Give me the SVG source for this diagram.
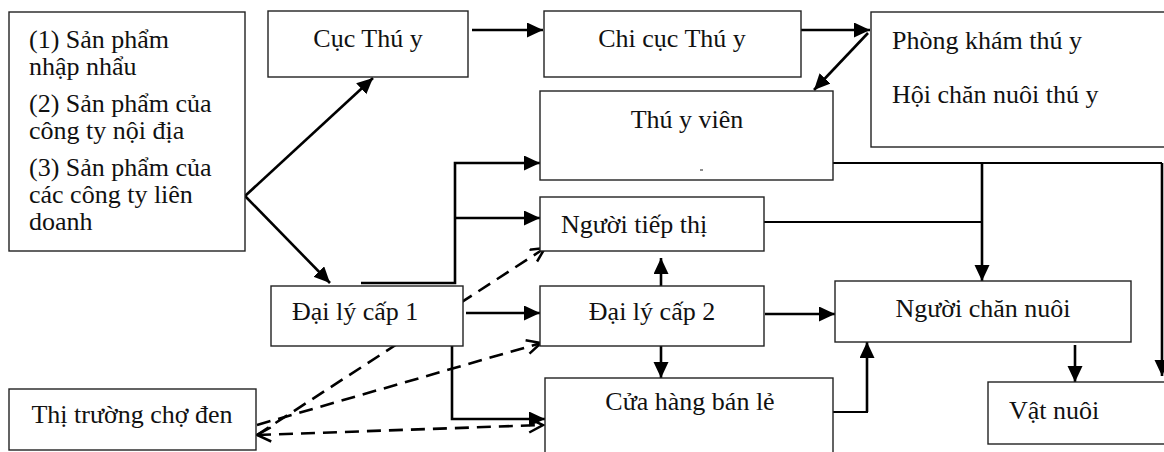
<svg xmlns="http://www.w3.org/2000/svg" width="1164" height="452" viewBox="0 0 1164 452">
<style>
  .box { fill: #fff; stroke: #222; stroke-width: 1.4; }
  .t { font-family: "Liberation Serif", "Times New Roman", serif; font-size: 26px; fill: #111; }
  .c { text-anchor: middle; }
  .ln { fill: none; stroke: #000; stroke-width: 2.6; }
  .thin { fill: none; stroke: #000; stroke-width: 1.8; }
  .dash { fill: none; stroke: #000; stroke-width: 2.6; stroke-dasharray: 14 8; }
</style>
<defs>
  <marker id="ah" markerUnits="userSpaceOnUse" markerWidth="17" markerHeight="16" refX="16" refY="7.5" orient="auto">
    <path d="M0,0 L16,7.5 L0,15 z" fill="#000"/>
  </marker>
  <marker id="oh" markerUnits="userSpaceOnUse" markerWidth="18" markerHeight="18" refX="15" refY="8" orient="auto-start-reverse">
    <path d="M1,1 L15,8 L1,15" fill="none" stroke="#000" stroke-width="2.5"/>
  </marker>
</defs>
<rect width="1164" height="452" fill="#fff"/>

<g id="connectors">
  <path class="ln" d="M472,30 H543" marker-end="url(#ah)"/>
  <path class="ln" d="M801,30 H870" marker-end="url(#ah)"/>
  <path class="ln" d="M868,33 L814,90" marker-end="url(#ah)"/>
  <path class="ln" d="M245,196 L373,78" marker-end="url(#ah)"/>
  <path class="ln" d="M245,196 L330,283" marker-end="url(#ah)"/>
  <path class="ln" d="M361,283 H455 V163 H540" stroke-width="3" marker-end="url(#ah)"/>
  <path class="ln" d="M455,218 H540" marker-end="url(#ah)"/>
  <path class="ln" d="M466,313 H540" marker-end="url(#ah)"/>
  <path class="ln" d="M357,344 H452 V419 H545" stroke-width="3" marker-end="url(#ah)"/>
  <path class="thin" d="M833,163 H1162"/>
  <path class="ln" d="M1162,163 V376" stroke-width="2" marker-end="url(#ah)"/>
  <path class="ln" d="M982,163 V281" marker-end="url(#ah)"/>
  <path class="thin" d="M764,222 H982" stroke-width="2.2"/>
  <path class="ln" d="M661,286 V258" marker-end="url(#ah)"/>
  <path class="ln" d="M765,314 H835" marker-end="url(#ah)"/>
  <path class="ln" d="M661,346 V378" marker-end="url(#ah)"/>
  <path class="thin" d="M833,412 H868"/>
  <path class="ln" d="M867,412 V342" marker-end="url(#ah)"/>
  <path class="ln" d="M1075,345 V382" marker-end="url(#ah)"/>
  <path class="dash" d="M257,435 L545,248" marker-end="url(#oh)"/>
  <path class="dash" d="M257,425 L541,343" marker-end="url(#oh)"/>
  <path class="dash" d="M257,435 L543,425" marker-start="url(#oh)" marker-end="url(#oh)"/>
</g>

<g id="san-pham">
  <rect class="box" x="9" y="12" width="236" height="239"/>
  <text class="t" x="29" y="48">(1) Sản phẩm</text>
  <text class="t" x="29" y="75">nhập nhẩu</text>
  <text class="t" x="29" y="112">(2) Sản phẩm của</text>
  <text class="t" x="29" y="139">công ty nội địa</text>
  <text class="t" x="29" y="176">(3) Sản phẩm của</text>
  <text class="t" x="29" y="203">các công ty liên</text>
  <text class="t" x="29" y="230">doanh</text>
</g>

<g id="cuc-thu-y">
  <rect class="box" x="268" y="11" width="200" height="66"/>
  <text class="t c" x="368" y="47">Cục Thú y</text>
</g>

<g id="chi-cuc-thu-y">
  <rect class="box" x="544" y="11" width="257" height="66"/>
  <text class="t c" x="672" y="47">Chi cục Thú y</text>
</g>

<g id="phong-kham">
  <rect class="box" x="871" y="12" width="320" height="135"/>
  <text class="t" x="892" y="49">Phòng khám thú y</text>
  <text class="t" x="892" y="103">Hội chăn nuôi thú y</text>
</g>

<g id="thu-y-vien">
  <rect class="box" x="540" y="91" width="293" height="89"/>
  <text class="t c" x="687" y="128">Thú y viên</text>
  <line x1="700" y1="170" x2="703" y2="170" stroke="#444" stroke-width="1.2"/>
</g>

<g id="nguoi-tiep-thi">
  <rect class="box" x="540" y="197" width="224" height="54"/>
  <text class="t" x="561" y="233">Người tiếp thị</text>
</g>

<g id="dai-ly-cap-1">
  <rect class="box" x="271" y="286" width="192" height="60"/>
  <text class="t" x="292" y="320">Đại lý cấp 1</text>
</g>

<g id="dai-ly-cap-2">
  <rect class="box" x="540" y="286" width="224" height="60"/>
  <text class="t c" x="652" y="320">Đại lý cấp 2</text>
</g>

<g id="cua-hang">
  <rect class="box" x="545" y="378" width="288" height="90"/>
  <text class="t c" x="690" y="410">Cửa hàng bán lẻ</text>
</g>

<g id="nguoi-chan-nuoi">
  <rect class="box" x="835" y="281" width="296" height="61"/>
  <text class="t c" x="983" y="317">Người chăn nuôi</text>
</g>

<g id="vat-nuoi">
  <rect class="box" x="988" y="382" width="200" height="62"/>
  <text class="t" x="1009" y="419">Vật nuôi</text>
</g>

<g id="thi-truong-cho-den">
  <rect class="box" x="9" y="389" width="247" height="61"/>
  <text class="t c" x="132" y="423">Thị trường chợ đen</text>
</g>
</svg>
